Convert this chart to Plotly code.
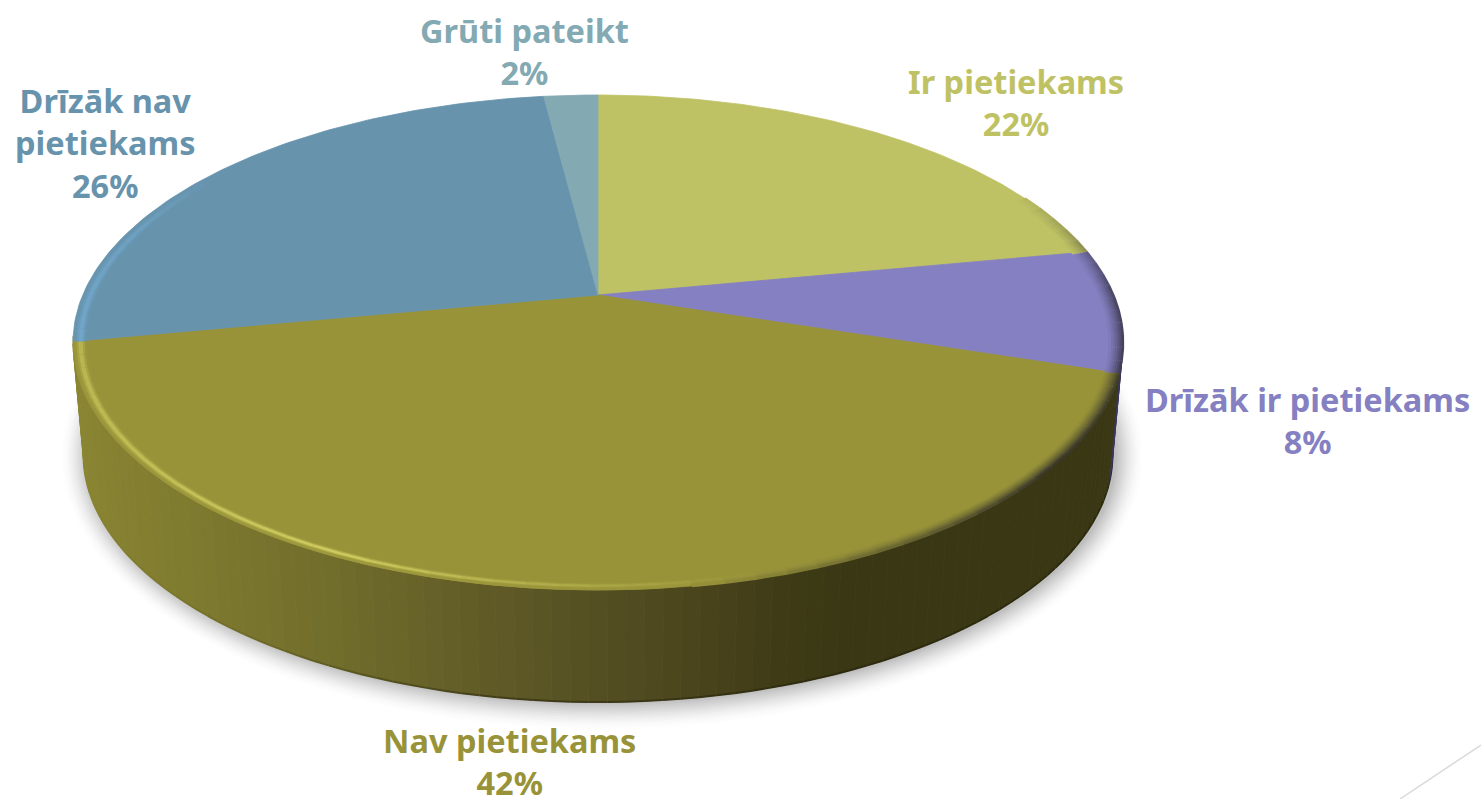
import numpy as np
import plotly.graph_objects as go

categories = ["Ir pietiekams", "Drīzāk ir pietiekams", "Nav pietiekams", "Drīzāk nav pietiekams", "Grūti pateikt"]
values = [22, 8, 42, 26, 2]
label_text = ["Ir pietiekams", "Drīzāk ir pietiekams", "Nav pietiekams", "Drīzāk nav<br>pietiekams", "Grūti pateikt"]
colors = ["#bfc264", "#8580c1", "#989339", "#6793ad", "#83a9b3"]
text_colors = ["#bfc264", "#8580c1", "#989339", "#6793ad", "#83a9b3"]
label_x = [1016, 1307, 509, 105, 524]
label_y = [102, 420, 761, 143, 51]
wall_x = [72, 340, 500, 600, 700, 790, 850, 1130]
wall_rgb = [(138, 133, 50), (112, 108, 43), (94, 89, 38), (84, 79, 34), (74, 68, 28), (62, 58, 22), (58, 55, 20), (58, 55, 20)]
FONT = "Noto Sans"
FS = 32.5

CX, CY = 598, 295
K = 95 / 495
B = 200 * (1 + K)
A = 525 * np.sqrt(1 - K * K)
TOP_CY = 342.5
BOT_CY, BOT_S = 454.5, 0.98


def proj(theta, s=1.0):
    """Clockwise angle from 12 o'clock on the tilted pie; s shrinks towards the rim centre."""
    u, v = np.sin(theta), np.cos(theta)
    w = 1 + K * v
    x, y = CX + A * u / w, CY - B * v / w
    return 598 + (x - 598) * s, TOP_CY + (y - TOP_CY) * s


def to_bottom(x, y):
    return 598 + (x - 598) * BOT_S, BOT_CY + (y - TOP_CY)


def hex_rgb(c):
    return tuple(int(c[i:i + 2], 16) for i in (1, 3, 5))


def mix(a, b, t):
    return tuple(a[i] + (b[i] - a[i]) * t for i in range(3))


def css(c):
    return "rgb(%d,%d,%d)" % tuple(round(v) for v in c)


def wall_color(x):
    return tuple(np.interp(x, wall_x, [c[i] for c in wall_rgb]) for i in range(3))


fig = go.Figure()


def poly(x, y, color):
    fig.add_trace(go.Scatter(x=list(x), y=list(y), mode="lines", fill="toself", fillcolor=color,
                             line=dict(color=color, width=0.8), hoverinfo="skip", showlegend=False))


def seg(x, y, color, width):
    fig.add_trace(go.Scatter(x=list(x), y=list(y), mode="lines", line=dict(color=color, width=width),
                             hoverinfo="skip", showlegend=False))


# soft ground shadow
for d in range(26, -1, -2):
    t = np.linspace(0, 2 * np.pi, 160)
    a = 0.005 + 0.0011 * (26 - d)
    c = "rgba(0,0,0,%.4f)" % a
    fig.add_trace(go.Scatter(x=602 + (515 + d) * np.cos(t), y=456 + (248 + d) * np.sin(t), mode="lines",
                             fill="toself", fillcolor=c, line=dict(width=0), hoverinfo="skip", showlegend=False))

# slice boundaries
total = sum(values)
edges = np.cumsum([0] + values) / total * 2 * np.pi

# side wall, strip by strip
thetas = np.linspace(np.pi * 0.30, np.pi * 1.70, 150)
for t0, t1 in zip(thetas[:-1], thetas[1:]):
    x0, y0 = proj(t0)
    x1, y1 = proj(t1)
    if max(y0, y1) < TOP_CY - 1:
        continue
    bx0, by0 = to_bottom(x0, y0)
    bx1, by1 = to_bottom(x1, y1)
    xm = (x0 + x1) / 2
    tm = (t0 + t1) / 2
    col = wall_color(xm)
    if edges[1] <= tm < edges[2]:
        col = (58, 54, 92)
    elif tm < edges[1]:
        continue
    poly([x0, x1, bx1, bx0, x0], [y0, y1, by1, by0, y0], css(col))
    dark_edge = np.interp(xm, [72, 250, 500], [0.0, 0.12, 0.45])
    seg([bx0, bx1], [by0, by1], css(mix(col, (30, 28, 8), dark_edge)), 2)

# top surface
for i, c in enumerate(colors):
    th = np.linspace(edges[i], edges[i + 1], 90)
    px, py = proj(th)
    poly(np.r_[CX, px, CX], np.r_[CY, py, CY], c)


def lit_amount(deg):
    return np.interp(deg, [150, 170, 190, 205, 225, 260, 285, 305], [0, 0.12, 0.5, 0.9, 0.7, 0.5, 0.35, 0])


def dark_amount(deg):
    return np.interp(deg, [62, 76, 90, 130, 172], [0, 0.25, 0.6, 0.8, 0])


# bevel along the rim, several thin nested lines from inner to outer
for s in [0.970, 0.975, 0.980, 0.984, 0.988, 0.992, 0.996, 1.0]:
    lit_w = np.exp(-(((s - 0.986) / 0.0065) ** 2))
    dark_w = np.clip((s - 0.968) / 0.032, 0, 1) ** 1.6
    for i, c in enumerate(colors):
        base = hex_rgb(c)
        a, b = edges[i], edges[i + 1]
        n = max(2, int(round((b - a) / np.radians(3))))
        th = np.linspace(a, b, n + 1)
        for t0, t1 in zip(th[:-1], th[1:]):
            deg = np.degrees((t0 + t1) / 2)
            lit, dark = lit_amount(deg) * lit_w, dark_amount(deg) * dark_w
            if lit < 0.02 and dark < 0.02:
                continue
            target = (220, 218, 105) if base[0] > base[2] else (125, 190, 235)
            col = mix(mix(base, target, lit), (35, 33, 40), dark)
            x, y = proj(np.linspace(t0, t1, 6), s)
            seg(x, y, css(col), 2.6)

annotations = [dict(x=x, y=y, xref="x", yref="y", text="<b>%s<br>%d%%</b>" % (t, v), showarrow=False,
                    align="center", font=dict(family=FONT, size=FS, color=c))
               for t, v, c, x, y in zip(label_text, values, text_colors, label_x, label_y)]

fig.update_layout(
    width=1481, height=799, margin=dict(l=0, r=0, t=0, b=0),
    paper_bgcolor="white", plot_bgcolor="white", showlegend=False,
    xaxis=dict(range=[0, 1481], visible=False, fixedrange=True),
    yaxis=dict(range=[799, 0], visible=False, fixedrange=True),
    annotations=annotations,
    shapes=[dict(type="line", x0=1400, y0=799, x1=1481, y1=745, line=dict(color="#d9d9d9", width=1.5))],
)
fig.write_html("out.html", config=dict(displayModeBar=False), post_script="document.body.style.margin='0';")
